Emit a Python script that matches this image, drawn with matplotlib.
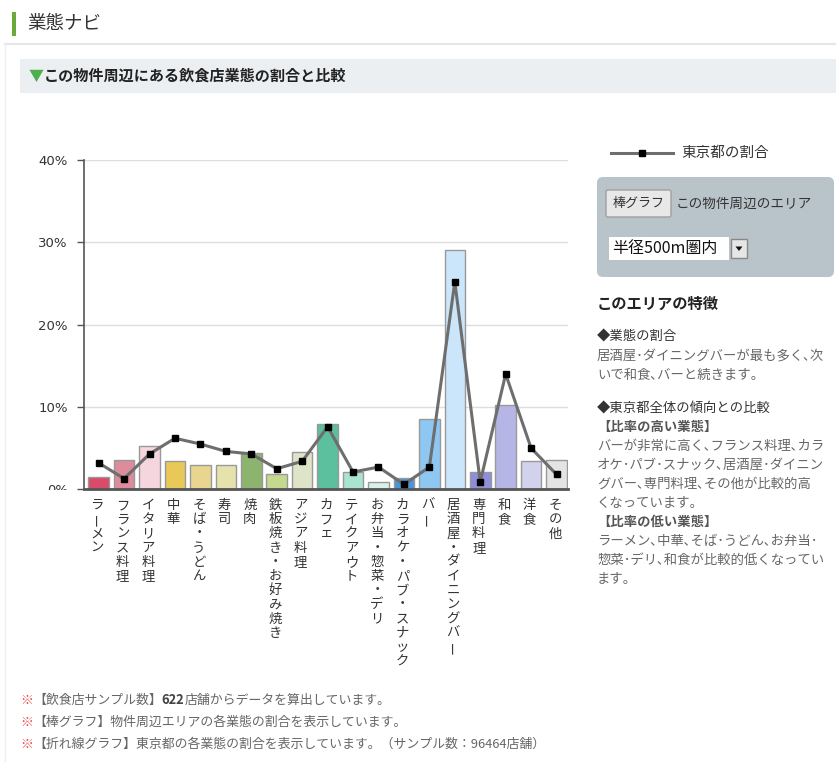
import matplotlib
matplotlib.use("Agg")
import matplotlib.pyplot as plt
from matplotlib import transforms
from matplotlib.patches import Rectangle, FancyBboxPatch, Polygon
from matplotlib.lines import Line2D
from matplotlib.transforms import Bbox, TransformedBbox

plt.rcParams['font.family'] = ['Noto Sans CJK JP', 'DejaVu Sans']

# data (percent)
categories = ['ラーメン', 'フランス料理', 'イタリア料理', '中華', 'そば・うどん', '寿司', '焼肉',
              '鉄板焼き・お好み焼き', 'アジア料理', 'カフェ', 'テイクアウト', 'お弁当・惣菜・デリ',
              'カラオケ・パブ・スナック', 'バー', '居酒屋・ダイニングバー', '専門料理', '和食', '洋食', 'その他']
area_share = [1.5, 3.6, 5.3, 3.4, 2.9, 2.9, 4.4, 1.8, 4.5, 7.9, 2.1, 0.9,
              1.4, 8.6, 29.1, 2.1, 10.2, 3.4, 3.6]
tokyo_share = [3.2, 1.3, 4.3, 6.2, 5.5, 4.6, 4.3, 2.5, 3.4, 7.6, 2.1, 2.7,
               0.6, 2.7, 25.2, 0.9, 14.0, 5.0, 1.8]
bar_colors = ['#dc4a6a', '#dd8c9c', '#f6d6de', '#e8c858', '#e8d690', '#e6e2ac', '#8cb46e',
              '#c4d88e', '#dde4c8', '#5cbf9e', '#a9e5ce', '#d9f1e7', '#4a94dd', '#8fc7f3',
              '#cbe5fb', '#8f8fd9', '#b6b6e6', '#d2d2ec', '#e4e4e4']
yticks = [0, 10, 20, 30, 40]
ytick_labels = ['0%', '10%', '20%', '30%', '40%']

W, H = 836, 762
fig = plt.figure(figsize=(W / 100, H / 100), dpi=100)
fig.patch.set_facecolor('white')
# page coords in pixels, origin top-left
T = transforms.Affine2D().scale(0.01, -0.01).translate(0, H / 100) + fig.dpi_scale_trans


def txt(x, y, s, size=9.4, color='#555555', weight='normal', ha='left'):
    return fig.text(x, y, s, transform=T, fontsize=size, color=color,
                    fontweight=weight, ha=ha, va='center')


def segs(x, y, parts, size):
    r = fig.canvas.get_renderer()
    for s, color, weight in parts:
        t = txt(x, y, s, size, color, weight)
        x += t.get_window_extent(r).width * 100 / fig.dpi


# page header
fig.add_artist(Rectangle((12, 12), 4, 24, transform=T, fc='#6aaa3c', ec='none'))
txt(27, 24, '業態ナビ', size=13.3, color='#333333')
fig.add_artist(Line2D([5, W], [44, 44], transform=T, color='#e6e6e6', lw=1.5))
fig.add_artist(Line2D([5, 5], [44, H], transform=T, color='#efefef', lw=1))
fig.add_artist(Rectangle((20, 59), W - 20, 34, transform=T, fc='#eceff1', ec='none'))
txt(29, 76, '▼', size=10.8, color='#4cae4c', weight='bold')
txt(44, 76, 'この物件周辺にある飲食店業態の割合と比較', size=10.9, color='#222222', weight='bold')

# chart
ax = fig.add_axes([84.3 / W, 1 - 489.3 / H, (568 - 84.3) / W, (489.3 - 160) / H])
x = range(len(categories))
ax.bar(x, area_share, width=0.81, color=bar_colors, edgecolor='#999999', linewidth=1, zorder=2)
ax.plot(x, tokyo_share, color='#6e6e6e', lw=2.2, marker='s', ms=5,
        mfc='black', mec='black', zorder=3)
ax.set_xlim(-0.566, 18.45)
ax.set_ylim(0, 40)
ax.set_yticks(yticks)
ax.set_yticklabels(ytick_labels, family='DejaVu Sans', fontsize=9.5, color='#333333')
ax.set_xticks([])
ax.grid(axis='y', color='#dddddd', lw=1)
ax.set_axisbelow(True)
for s in ['top', 'right']:
    ax.spines[s].set_visible(False)
ax.spines['left'].set_color('#555555')
ax.spines['left'].set_linewidth(1.2)
ax.spines['bottom'].set_color('#555555')
ax.spines['bottom'].set_linewidth(2)
ax.tick_params(axis='y', length=5, width=1, color='#555555', pad=7)
lbl0 = ax.yaxis.get_major_ticks()[0].label1
lbl0.set_clip_on(True)
lbl0.set_clip_box(TransformedBbox(Bbox.from_extents(0, 1 - 489.5 / H, 1, 1), fig.transFigure))

# vertical category labels, one character at a time
for i, name in enumerate(categories):
    for k, ch in enumerate(name):
        ax.annotate(ch, xy=(i, 0), xycoords=('data', 'axes fraction'),
                    xytext=(-1.5, -15.7 - 14.2 * k), textcoords='offset pixels',
                    ha='center', va='center', fontsize=9.6, color='#333333',
                    rotation=90 if ch == 'ー' else 0, annotation_clip=False)

# legend + selector panel
fig.add_artist(Line2D([611, 673], [153, 153], transform=T, color='#6e6e6e', lw=2.2))
fig.add_artist(Line2D([642], [153], transform=T, marker='s', ms=5, color='black'))
txt(681, 153, '東京都の割合', size=10.5, color='#333333')

fig.add_artist(FancyBboxPatch((597, 177), 237, 100, boxstyle='round,pad=0,rounding_size=6',
                              transform=T, fc='#b9c3ca', ec='none'))
fig.add_artist(FancyBboxPatch((606, 190), 65, 27, boxstyle='round,pad=0,rounding_size=2',
                              transform=T, fc='#e8e8e8', ec='#a0a0a0', lw=1))
txt(638.5, 203.5, '棒グラフ', size=9.4, color='#333333', ha='center')
txt(676, 203.5, 'この物件周辺のエリア', size=9.8, color='#333333')
fig.add_artist(Rectangle((609, 237), 120, 23, transform=T, fc='white', ec='none'))
txt(612, 248.5, '半径500m圏内', size=11.5, color='#111111')
fig.add_artist(Rectangle((731, 239), 16, 19, transform=T, fc='#e6e6e6', ec='#888888', lw=1))
fig.add_artist(Polygon([(735.5, 246.5), (742.5, 246.5), (739, 251)], transform=T,
                       fc='#111111', ec='none'))

# area description (half-width dots/commas like the proportional page font)
txt(597, 304, 'このエリアの特徴', size=11, color='#222222', weight='bold')
body = [
    (337, '◆業態の割合', '#333333', 'normal'),
    (356, '居酒屋･ダイニングバーが最も多く､次', '#666666', 'normal'),
    (375, 'いで和食､バーと続きます。', '#666666', 'normal'),
    (409, '◆東京都全体の傾向との比較', '#333333', 'normal'),
    (427, '【比率の高い業態】', '#555555', 'bold'),
    (446, 'バーが非常に高く､フランス料理､カラ', '#666666', 'normal'),
    (465, 'オケ･パブ･スナック､居酒屋･ダイニン', '#666666', 'normal'),
    (484, 'グバー､専門料理､その他が比較的高', '#666666', 'normal'),
    (503, 'くなっています。', '#666666', 'normal'),
    (522, '【比率の低い業態】', '#555555', 'bold'),
    (541, 'ラーメン､中華､そば･うどん､お弁当･', '#666666', 'normal'),
    (560, '惣菜･デリ､和食が比較的低くなってい', '#666666', 'normal'),
    (579, 'ます。', '#666666', 'normal'),
]
for yy, s, c, w in body:
    txt(597, yy, s, size=9.6, color=c, weight=w)

# footnotes
red, grey = '#e84040', '#666666'
fs = 9.3
segs(20, 700, [('※', red, 'normal'), ('【飲食店サンプル数】', grey, 'normal'),
               ('622', '#444444', 'bold'), ('店舗からデータを算出しています。', grey, 'normal')], fs)
segs(20, 722, [('※', red, 'normal'), ('【棒グラフ】物件周辺エリアの各業態の割合を表示しています。', grey, 'normal')], fs)
segs(20, 744, [('※', red, 'normal'),
               ('【折れ線グラフ】東京都の各業態の割合を表示しています。（サンプル数：96464店舗）', grey, 'normal')], fs)

fig.savefig('out.png', dpi=100, facecolor='white')
